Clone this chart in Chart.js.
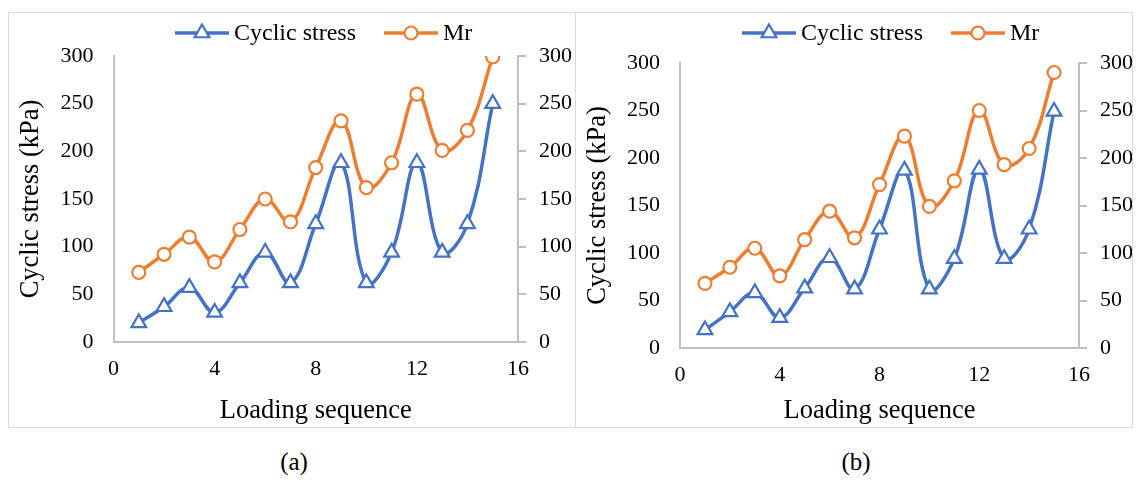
<!DOCTYPE html>
<html>
<head>
<meta charset="utf-8">
<script src="https://cdn.jsdelivr.net/npm/chart.js@4/dist/chart.umd.min.js"></script>
<style>
  body { margin: 0; background: #fff; width: 1139px; height: 480px; position: relative; overflow: hidden; }
  .panel { position: absolute; top: 12px; height: 416px; border: 1px solid #d9d9d9; box-sizing: border-box; }
  .panel canvas { position: absolute; left: 0; top: 0; }
  .cap { position: absolute; top: 448px; font: 25px "Liberation Serif", serif; color: #000; transform: translateX(-50%); }
</style>
</head>
<body>
<div class="panel" style="left:8px; width:568px;"><canvas id="chartA" width="566" height="414"></canvas></div>
<div class="panel" style="left:575px; width:558px;"><canvas id="chartB" width="556" height="414"></canvas></div>
<div class="cap" style="left:294px;">(a)</div>
<div class="cap" style="left:856px;">(b)</div>

<script>
// loading sequence 1..15
const sequence = [1, 2, 3, 4, 5, 6, 7, 8, 9, 10, 11, 12, 13, 14, 15];

// panel (a)
const cyclicA = [20, 37, 57, 31, 62, 94, 62, 124, 188, 62, 94, 188, 94, 124, 250];
const mrA = [73, 92, 110, 84, 118, 150, 126, 183, 232, 162, 188, 260, 201, 222, 299];

// panel (b)
const cyclicB = [19, 38, 58, 32, 63, 95, 62, 125, 187, 62, 94, 188, 94, 125, 249];
const mrB = [68, 85, 105, 76, 114, 144, 116, 172, 223, 149, 176, 250, 193, 210, 290];

const xTicks = [0, 4, 8, 12, 16];
const yTicks = [0, 50, 100, 150, 200, 250, 300];

const BLUE = '#4472C4';
const ORANGE = '#ED7D31';
const AXIS = '#bfbfbf';
const FONT = 'Liberation Serif';

Chart.defaults.font.family = FONT;
Chart.defaults.color = '#000';

// legend drawn as line + marker + label, like the Excel one
const lineLegend = {
  id: 'lineLegend',
  afterDraw(chart, args, opts) {
    const ctx = chart.ctx;
    let x = opts.x;
    const y = opts.y;
    ctx.save();
    ctx.font = '24px "' + FONT + '"';
    ctx.textBaseline = 'middle';
    chart.data.datasets.forEach(ds => {
      ctx.strokeStyle = ds.borderColor;
      ctx.lineWidth = ds.borderWidth;
      ctx.beginPath();
      ctx.moveTo(x, y);
      ctx.lineTo(x + 54, y);
      ctx.stroke();
      ctx.fillStyle = '#fff';
      ctx.lineWidth = ds.pointBorderWidth;
      Chart.helpers.drawPoint(ctx, {
        pointStyle: ds.pointStyle,
        radius: ds.pointRadius,
        borderWidth: ds.pointBorderWidth,
        rotation: 0
      }, x + 27, y);
      ctx.fillStyle = '#000';
      const tx = x + 59;
      ctx.fillText(ds.label, tx, y + 1);
      x = tx + ctx.measureText(ds.label).width + 28;
    });
    ctx.restore();
  }
};

function toPoints(values) {
  return sequence.map((s, i) => ({ x: s, y: values[i] }));
}

function makeChart(id, cyclic, mr, box) {
  const tickFont = { family: FONT, size: 22 };
  const titleFont = { family: FONT, size: 26.5 };
  return new Chart(document.getElementById(id), {
    type: 'line',
    data: {
      datasets: [{
        label: 'Cyclic stress',
        data: toPoints(cyclic),
        yAxisID: 'y',
        borderColor: BLUE,
        backgroundColor: '#fff',
        borderWidth: 3.5,
        pointStyle: 'triangle',
        pointRadius: 8.5,
        pointBorderWidth: 2.2,
        pointBackgroundColor: '#fff',
        pointBorderColor: BLUE,
        tension: 0.4
      }, {
        label: 'Mr',
        data: toPoints(mr),
        yAxisID: 'y1',
        borderColor: ORANGE,
        backgroundColor: '#fff',
        borderWidth: 3.5,
        pointStyle: 'circle',
        pointRadius: 6.5,
        pointBorderWidth: 2.2,
        pointBackgroundColor: '#fff',
        pointBorderColor: ORANGE,
        tension: 0.4
      }]
    },
    options: {
      responsive: false,
      animation: false,
      layout: { padding: { top: box.top, left: 0, right: 0, bottom: 0 } },
      plugins: {
        legend: { display: false },
        tooltip: { enabled: false },
        lineLegend: { x: 166, y: 20 }
      },
      scales: {
        x: {
          type: 'linear',
          min: 0,
          max: 16,
          afterBuildTicks: scale => { scale.ticks = xTicks.map(v => ({ value: v })); },
          grid: { display: false, drawTicks: false },
          border: { display: true, color: AXIS, width: 2 },
          ticks: { font: tickFont, padding: 14 },
          title: { display: true, text: 'Loading sequence', font: titleFont, padding: { top: 0, bottom: 0 } },
          afterFit: scale => { scale.height = box.xh; }
        },
        y: {
          position: 'left',
          min: 0,
          max: 300,
          afterBuildTicks: scale => { scale.ticks = yTicks.map(v => ({ value: v })); },
          grid: { display: false, drawTicks: false },
          border: { display: true, color: AXIS, width: 2 },
          ticks: { font: tickFont, padding: 20 },
          title: { display: true, text: 'Cyclic stress (kPa)', font: titleFont, padding: { top: 6, bottom: 0 } },
          afterFit: scale => { scale.width = box.left; }
        },
        y1: {
          position: 'right',
          min: 0,
          max: 300,
          afterBuildTicks: scale => { scale.ticks = yTicks.map(v => ({ value: v })); },
          grid: { display: true, drawOnChartArea: false, drawTicks: true, tickLength: 8, color: AXIS, lineWidth: 2 },
          border: { display: true, color: AXIS, width: 2 },
          ticks: { font: tickFont, padding: 13 },
          afterFit: scale => { scale.width = box.right; }
        }
      }
    },
    plugins: [lineLegend]
  });
}

makeChart('chartA', cyclicA, mrA, { top: 43, left: 104.5, right: 57, xh: 85 });
makeChart('chartB', cyclicB, mrB, { top: 50, left: 104, right: 53, xh: 79 });
</script>
</body>
</html>
